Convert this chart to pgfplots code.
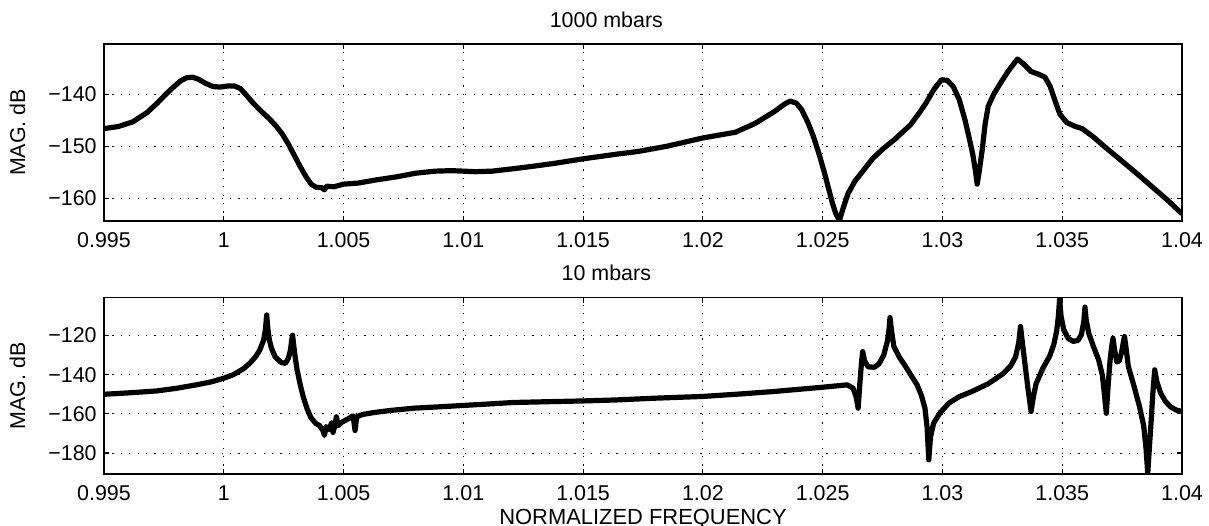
\documentclass[border=0pt]{standalone}
\usepackage{fontspec}
\setmainfont{Liberation Sans}
\usepackage{pgfplots}
\pgfplotsset{compat=1.18}
\pgfplotsset{mystyle/.style={
  scale only axis, width=539bp,
  xmin=0.995, xmax=1.04,
  xtick={0.995,1,1.005,1.01,1.015,1.02,1.025,1.03,1.035,1.04},
  xticklabels={0.995,1,1.005,1.01,1.015,1.02,1.025,1.03,1.035,1.04},
  tick align=inside, tick pos=both, major tick length=2.5bp,
  grid=major,
  major grid style={black, line width=0.5bp, dash pattern=on 0.6bp off 3.6bp},
  axis line style={line width=0.6bp},
  every tick/.style={black, line width=0.6bp},
  tick label style={font=\fontsize{10.75}{13}\selectfont},
  xticklabel style={inner sep=0pt, yshift=-5.5bp},
  yticklabel style={inner sep=0pt, xshift=-3.5bp},
  every axis y label/.style={at={(axis description cs:-0.0802,0.5)}, rotate=90, anchor=center, inner sep=0pt, font=\fontsize{10.75}{13}\selectfont},
  every axis title/.style={at={(axis description cs:0.466,1)}, anchor=base, yshift=8.3bp, inner sep=0pt, font=\fontsize{10.75}{13}\selectfont},
  every axis x label/.style={at={(axis description cs:0.5,0)}, anchor=base, yshift=-25.15bp, inner sep=0pt, font=\fontsize{11}{13}\selectfont},
  ylabel={MAG. dB},
}}
\begin{document}
\begin{tikzpicture}
\useasboundingbox (0,0) rectangle (604.5bp,-263bp);
\begin{axis}[mystyle, at={(52bp,-22bp)}, anchor=north west, height=88.5bp,
  ymin=-164.4, ymax=-130.3,
  ytick={-160,-150,-140}, yticklabels={−160,−150,−140},
  title={1000 mbars}]
\addplot[black, line width=2.6bp, line join=round] coordinates {
(0.99500,-146.6) (0.99560,-146.2) (0.99620,-145.3) (0.99680,-143.5) (0.99722,-141.7)
(0.99760,-139.9) (0.99790,-138.6) (0.99820,-137.4) (0.99845,-136.8) (0.99870,-136.7)
(0.99895,-137.1) (0.99925,-137.9) (0.99955,-138.5) (0.99985,-138.6) (1.00015,-138.4)
(1.00045,-138.4) (1.00070,-138.9) (1.00095,-140.2) (1.00125,-141.8) (1.00155,-143.2)
(1.00190,-144.7) (1.00220,-146.2) (1.00245,-147.7) (1.00270,-149.6) (1.00295,-151.8)
(1.00320,-154.0) (1.00345,-156.0) (1.00365,-157.3) (1.00385,-157.9) (1.00410,-158.0)
(1.00420,-158.4) (1.00430,-157.7) (1.00460,-157.8) (1.00500,-157.3) (1.00560,-157.1)
(1.00634,-156.5) (1.00720,-155.9) (1.00800,-155.2) (1.00882,-154.8) (1.00950,-154.7)
(1.01050,-154.9) (1.01120,-154.8) (1.01214,-154.3) (1.01300,-153.8) (1.01380,-153.3)
(1.01503,-152.4) (1.01644,-151.5) (1.01730,-151.0) (1.01850,-150.0) (1.02000,-148.4)
(1.02136,-147.3) (1.02218,-145.6) (1.02299,-143.3) (1.02340,-141.9) (1.02364,-141.3)
(1.02390,-141.7) (1.02413,-143.0) (1.02440,-145.6) (1.02462,-148.2) (1.02485,-151.5)
(1.02508,-155.2) (1.02525,-158.2) (1.02541,-161.0) (1.02555,-163.0) (1.02570,-164.3)
(1.02585,-162.0) (1.02606,-159.1) (1.02635,-156.7) (1.02671,-154.6) (1.02710,-152.3)
(1.02752,-150.5) (1.02800,-148.7) (1.02866,-145.9) (1.02900,-143.8) (1.02931,-141.7)
(1.02965,-139.0) (1.02996,-137.2) (1.03020,-137.3) (1.03045,-138.5) (1.03070,-141.0)
(1.03094,-144.9) (1.03112,-148.5) (1.03126,-151.4) (1.03137,-154.5) (1.03145,-157.3)
(1.03153,-155.0) (1.03166,-150.7) (1.03178,-145.8) (1.03191,-142.3) (1.03215,-139.9)
(1.03240,-138.0) (1.03275,-135.5) (1.03313,-133.2) (1.03340,-134.2) (1.03370,-135.6)
(1.03400,-136.1) (1.03428,-136.7) (1.03450,-138.5) (1.03469,-141.1) (1.03490,-143.8)
(1.03518,-145.4) (1.03550,-146.1) (1.03583,-146.6) (1.03630,-148.2) (1.03680,-150.2)
(1.03761,-153.3) (1.03820,-155.6) (1.03875,-157.8) (1.03940,-160.4) (1.04000,-163.0)
};
\end{axis}
\begin{axis}[mystyle, at={(52bp,-148.75bp)}, anchor=north west, height=88.25bp,
  ymin=-190.7, ymax=-100.6,
  ytick={-180,-160,-140,-120}, yticklabels={−180,−160,−140,−120},
  title={10 mbars}, xlabel={NORMALIZED FREQUENCY}]
\addplot[black, line width=2.6bp, line join=round] coordinates {
(0.99500,-150.0) (0.99600,-149.3) (0.99720,-148.3) (0.99800,-147.0) (0.99885,-145.2)
(0.99950,-143.6) (1.00000,-141.8) (1.00040,-140.0) (1.00083,-136.9) (1.00110,-134.0)
(1.00133,-130.8) (1.00150,-127.5) (1.00166,-122.5) (1.00174,-117.0) (1.00179,-109.5)
(1.00184,-116.5) (1.00190,-122.0) (1.00199,-126.5) (1.00215,-131.0) (1.00240,-133.8)
(1.00258,-134.2) (1.00270,-131.5) (1.00278,-127.5) (1.00283,-123.0) (1.00287,-119.8)
(1.00292,-125.0) (1.00298,-131.0) (1.00306,-137.5) (1.00318,-144.5) (1.00331,-151.0)
(1.00348,-157.5) (1.00364,-162.0) (1.00385,-165.0) (1.00400,-166.0) (1.00414,-168.5)
(1.00420,-171.0) (1.00428,-166.5) (1.00440,-168.0) (1.00450,-164.5) (1.00456,-169.5)
(1.00463,-166.5) (1.00470,-161.5) (1.00478,-166.0) (1.00490,-164.5) (1.00500,-163.8)
(1.00520,-162.5) (1.00540,-161.0) (1.00548,-168.5) (1.00555,-161.5) (1.00580,-160.3)
(1.00628,-159.3) (1.00700,-158.2) (1.00794,-157.1) (1.00900,-156.4) (1.01000,-155.7)
(1.01100,-155.0) (1.01208,-154.2) (1.01350,-153.8) (1.01500,-153.4) (1.01637,-152.9)
(1.01800,-152.0) (1.02000,-151.1) (1.02150,-149.9) (1.02295,-148.6) (1.02500,-146.4)
(1.02602,-145.2) (1.02627,-146.9) (1.02640,-151.5) (1.02648,-157.1) (1.02655,-145.0)
(1.02662,-134.0) (1.02667,-128.2) (1.02675,-133.0) (1.02690,-136.0) (1.02716,-136.2)
(1.02735,-134.5) (1.02755,-130.0) (1.02770,-123.0) (1.02777,-117.0) (1.02781,-110.8)
(1.02787,-117.0) (1.02797,-125.6) (1.02820,-131.0) (1.02846,-135.8) (1.02870,-140.5)
(1.02894,-145.2) (1.02912,-150.5) (1.02927,-157.1) (1.02936,-167.0) (1.02943,-183.5)
(1.02950,-172.0) (1.02963,-164.8) (1.02990,-159.5) (1.03026,-154.6) (1.03070,-151.2)
(1.03123,-148.6) (1.03190,-144.7) (1.03253,-139.5) (1.03285,-135.5) (1.03305,-131.0)
(1.03318,-124.0) (1.03326,-115.4) (1.03334,-124.0) (1.03343,-133.0) (1.03357,-147.0)
(1.03370,-158.8) (1.03380,-151.0) (1.03391,-144.6) (1.03420,-136.5) (1.03448,-130.5)
(1.03465,-124.5) (1.03477,-117.5) (1.03484,-110.0) (1.03489,-101.5) (1.03495,-110.0)
(1.03506,-117.0) (1.03525,-121.5) (1.03546,-123.0) (1.03566,-122.5) (1.03580,-119.5)
(1.03590,-113.0) (1.03595,-105.5) (1.03600,-112.0) (1.03611,-119.0) (1.03630,-125.5)
(1.03652,-132.4) (1.03668,-140.5) (1.03684,-159.7) (1.03692,-145.0) (1.03700,-132.4)
(1.03706,-126.0) (1.03712,-121.4) (1.03718,-127.0) (1.03728,-133.5) (1.03738,-133.0)
(1.03748,-128.5) (1.03755,-123.5) (1.03760,-120.5) (1.03766,-126.0) (1.03776,-135.8)
(1.03800,-146.0) (1.03822,-156.0) (1.03840,-166.0) (1.03850,-178.0) (1.03857,-190.5)
(1.03864,-177.0) (1.03870,-166.0) (1.03878,-150.0) (1.03886,-137.5) (1.03895,-143.5)
(1.03911,-149.4) (1.03930,-153.5) (1.03951,-156.3) (1.03975,-158.0) (1.04000,-158.8)
};
\end{axis}
\end{tikzpicture}
\end{document}
